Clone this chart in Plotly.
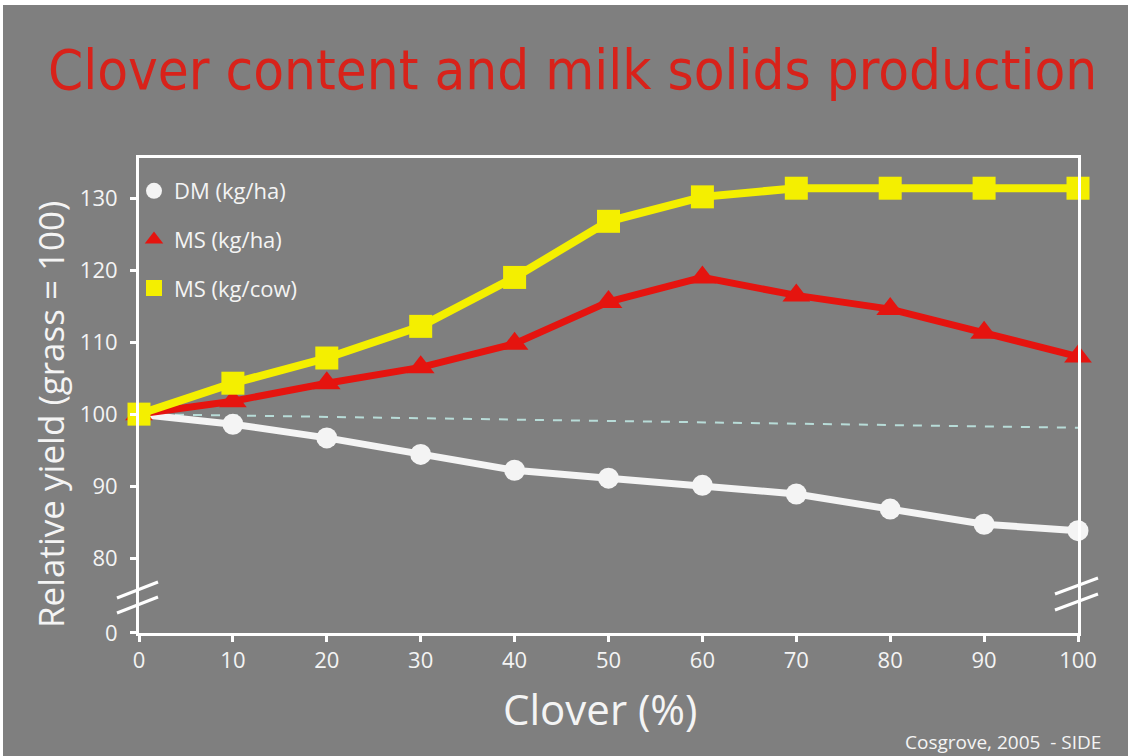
import plotly.graph_objects as go

# ---- data -----------------------------------------------------------------
clover = [0, 10, 20, 30, 40, 50, 60, 70, 80, 90, 100]
dm_kg_ha = [100, 98.6, 96.7, 94.4, 92.2, 91.1, 90.1, 88.9, 86.8, 84.7, 83.8]
ms_kg_ha = [100, 101.8, 104.3, 106.5, 109.8, 115.6, 119.0, 116.5, 114.6, 111.3, 108.0]
ms_kg_cow = [100, 104.3, 107.8, 112.2, 119.0, 126.8, 130.2, 131.4, 131.4, 131.4, 131.4]
grass_ref_x = [0, 100]
grass_ref_y = [100, 98.1]

x_ticks = [0, 10, 20, 30, 40, 50, 60, 70, 80, 90, 100]
# the "0" tick sits just below the broken section of the axis
y_zero_pos = 69.6
y_tickvals = [y_zero_pos, 80, 90, 100, 110, 120, 130]
y_ticktext = ["0", "80", "90", "100", "110", "120", "130"]

W, H = 1128, 756
BG = "#7f7f7f"
WHITE = "#f4f4f4"
RED = "#e5140f"
YELLOW = "#f4ef00"
AXIS_FONT = "Open Sans"


def px(x):
    return x / W


def py(y):
    return 1 - y / H


fig = go.Figure()

# dashed grass reference line
fig.add_trace(go.Scatter(
    x=grass_ref_x, y=grass_ref_y, mode="lines",
    line=dict(color="#b8dcd8", width=2, dash="dash"),
    showlegend=False, hoverinfo="skip", cliponaxis=False,
))

series = [
    ("DM (kg/ha)", dm_kg_ha, WHITE, "circle", 21, 7),
    ("MS (kg/ha)", ms_kg_ha, RED, "triangle-up", 24, 7),
    ("MS (kg/cow)", ms_kg_cow, YELLOW, "square", 23, 8),
]

for name, ys, color, symbol, size, lw in series:
    fig.add_trace(go.Scatter(
        x=clover, y=ys, mode="lines+markers", name=name,
        line=dict(color=color, width=lw),
        marker=dict(color=color, symbol=symbol, size=size),
        showlegend=False, cliponaxis=False,
    ))

# marker-only legend entries
for i, (name, ys, color, symbol, size, lw) in enumerate(series):
    fig.add_trace(go.Scatter(
        x=[None], y=[None], mode="markers", name=name,
        marker=dict(color=color, symbol=symbol, size=size),
        legendgroup=f"g{i}", showlegend=True,
    ))

axis_common = dict(
    showline=True, linecolor="white", linewidth=3, mirror=True,
    ticks="outside", tickcolor="white", tickwidth=3, ticklen=6,
    showgrid=False, zeroline=False, automargin=False,
    tickfont=dict(family=AXIS_FONT, size=22, color=WHITE),
)

fig.update_xaxes(
    range=[0, 100], domain=[px(139), px(1078)],
    tickvals=x_ticks, ticktext=[str(v) for v in x_ticks],
    **axis_common,
)
fig.update_yaxes(
    range=[y_zero_pos - 0.02, 135.6], domain=[py(633), py(158)],
    tickvals=y_tickvals, ticktext=y_ticktext, ticklabelstandoff=8,
    **axis_common,
)

# axis break marks
breaks = [
    ((117, 598), (158, 582)), ((117, 613), (158, 597)),
    ((1055, 594), (1098, 578)), ((1055, 610), (1098, 594)),
]
shapes = []
for (x0, y0), (x1, y1) in breaks:
    shapes.append(dict(
        type="line", xref="paper", yref="paper",
        x0=px(x0), y0=py(y0), x1=px(x1), y1=py(y1),
        line=dict(color="white", width=3),
    ))
# light scan border along the top and left edges
shapes.append(dict(type="rect", xref="paper", yref="paper", x0=0, x1=1,
                   y0=py(5), y1=1, fillcolor="white", line=dict(width=0), layer="above"))
shapes.append(dict(type="rect", xref="paper", yref="paper", x0=0, x1=px(3),
                   y0=0, y1=1, fillcolor="white", line=dict(width=0), layer="above"))

annotations = [
    dict(text="Clover content and milk solids production",
         x=px(572), y=py(70), xref="paper", yref="paper",
         xanchor="center", yanchor="middle", showarrow=False,
         font=dict(family="DejaVu Sans Condensed", size=56, color="#d8221a")),
    dict(text="Relative yield (grass = 100)",
         x=px(50), y=py(415), xref="paper", yref="paper",
         xanchor="center", yanchor="middle", showarrow=False, textangle=-90,
         font=dict(family=AXIS_FONT, size=35, color=WHITE)),
    dict(text="Clover (%)",
         x=px(600), y=py(708), xref="paper", yref="paper",
         xanchor="center", yanchor="middle", showarrow=False,
         font=dict(family=AXIS_FONT, size=42, color=WHITE)),
    dict(text="Cosgrove, 2005  - SIDE",
         x=px(1103), y=py(742), xref="paper", yref="paper",
         xanchor="right", yanchor="middle", showarrow=False,
         font=dict(family=AXIS_FONT, size=19, color=WHITE)),
]

fig.update_layout(
    width=W, height=H, autosize=False,
    margin=dict(l=0, r=0, t=0, b=0),
    paper_bgcolor=BG, plot_bgcolor=BG,
    shapes=shapes, annotations=annotations,
    legend=dict(
        x=px(134), y=py(170), xanchor="left", yanchor="top",
        bgcolor="rgba(0,0,0,0)", tracegroupgap=17, itemwidth=30,
        font=dict(family=AXIS_FONT, size=22, color=WHITE),
    ),
)

fig.write_html("out.html")
